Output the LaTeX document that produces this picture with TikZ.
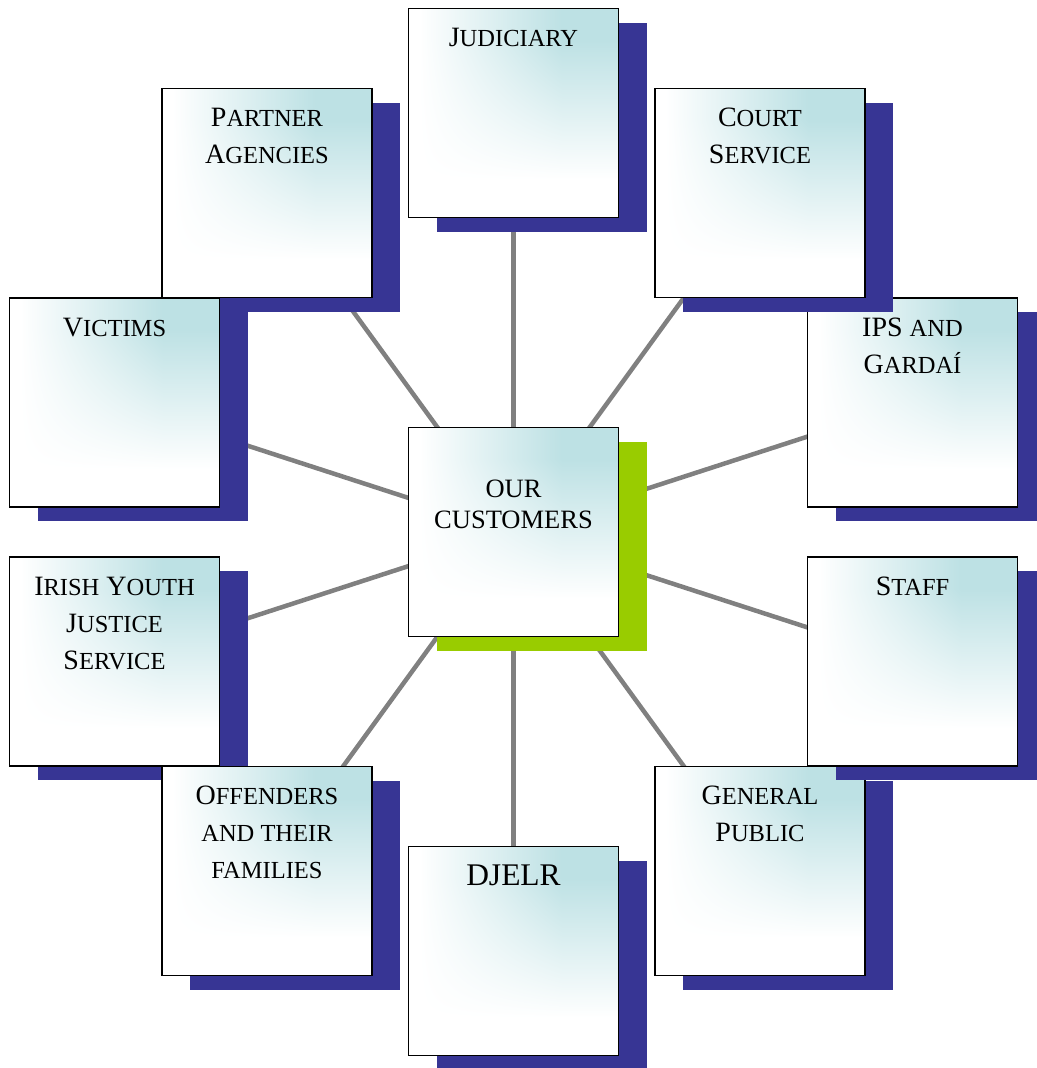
\documentclass[tikz,border=0pt]{standalone}
\usepackage{fontspec}
\setmainfont{Liberation Serif}
\usetikzlibrary{shadows,backgrounds}
\definecolor{shadowblue}{RGB}{55,53,148}
\definecolor{limegreen}{RGB}{153,204,0}
\definecolor{linegray}{RGB}{128,128,128}
% white -> teal (189,225,228) towards the upper right
\pgfdeclarefunctionalshading{boxshade}{\pgfpointorigin}{\pgfpoint{100bp}{100bp}}{}{
  exch
  25 sub 50 div 0.05 sub 0.68 div
  dup 0 lt {pop 0} if dup 1 gt {pop 1} if
  exch
  25 sub 50 div 0.18 sub 0.67 div
  dup 0 lt {pop 0} if dup 1 gt {pop 1} if
  mul
  dup 0.259 mul 1 exch sub
  exch
  dup 0.118 mul 1 exch sub
  exch
  0.106 mul 1 exch sub
}
\newcommand\sm[1]{{\fontsize{24.5}{37}\selectfont #1}}
\newcommand\firstline{\rule{0pt}{26pt}}
\tikzset{
  boxbase/.style={draw=black, line width=1.8pt, rectangle, inner sep=0pt,
    minimum width=210pt, minimum height=209pt, shading=boxshade, shade},
  outerbox/.style={boxbase, general shadow={fill=shadowblue, shadow xshift=28pt, shadow yshift=-14pt}},
  centerbox/.style={boxbase, general shadow={fill=limegreen, shadow xshift=28pt, shadow yshift=-14pt}},
  boxtext/.style={anchor=north, inner sep=0pt, align=center, font=\fontsize{28}{37}\selectfont},
  conn/.style={draw=linegray, line width=4.5pt}
}
\begin{document}
\begin{tikzpicture}[x=1pt, y=-1pt]
\useasboundingbox (0,0) rectangle (1036,1068);
% boxes (order matters for overlaps)
\node[outerbox] (jud) at (513.5,113) {};
\node[boxtext] (judt) at ([yshift=-13pt]jud.north) {\firstline J\sm{UDICIARY}};
\node[outerbox] (par) at (267,193) {};
\node[boxtext] (part) at ([yshift=-13pt]par.north) {\firstline P\sm{ARTNER}\\A\sm{GENCIES}};
\node[outerbox] (ips) at (912.5,402.5) {};
\node[boxtext] (ipst) at ([yshift=-13pt]ips.north) {\firstline IPS \sm{AND}\\G\sm{ARDAÍ}};
\node[outerbox] (cou) at (760,193) {};
\node[boxtext] (cout) at ([yshift=-13pt]cou.north) {\firstline C\sm{OURT}\\S\sm{ERVICE}};
\node[outerbox] (vic) at (114.5,402.5) {};
\node[boxtext] (vict) at ([yshift=-13pt]vic.north) {\firstline V\sm{ICTIMS}};
\node[outerbox] (gen) at (760,871) {};
\node[boxtext] (gent) at ([yshift=-13pt]gen.north) {\firstline G\sm{ENERAL}\\P\sm{UBLIC}};
\node[outerbox] (sta) at (912.5,661.5) {};
\node[boxtext] (stat) at ([yshift=-13pt]sta.north) {\firstline S\sm{TAFF}};
\node[outerbox] (iyj) at (114.5,661.5) {};
\node[boxtext] (iyjt) at ([yshift=-13pt]iyj.north) {\firstline I\sm{RISH} Y\sm{OUTH}\\J\sm{USTICE}\\S\sm{ERVICE}};
\node[outerbox] (off) at (267,871) {};
\node[boxtext] (offt) at ([yshift=-13pt]off.north) {\firstline O\sm{FFENDERS}\\\sm{AND THEIR}\\\sm{FAMILIES}};
\node[outerbox] (dje) at (513.5,951) {};
\node[boxtext, font=\fontsize{31.5}{37}\selectfont] (djet) at ([yshift=-13.5pt]dje.north) {\firstline DJELR};
\node[centerbox] (cen) at (513.5,532) {};
\node[boxtext, font=\fontsize{26.5}{31}\selectfont] (cent) at ([yshift=-45pt]cen.north) {\firstline OUR\\CUSTOMERS};
% connectors behind everything
\begin{scope}[on background layer]
\foreach \n in {jud,par,cou,vic,ips,iyj,sta,off,gen,dje}
  \draw[conn] (cen.center) -- (\n.center);
\end{scope}
\end{tikzpicture}
\end{document}
